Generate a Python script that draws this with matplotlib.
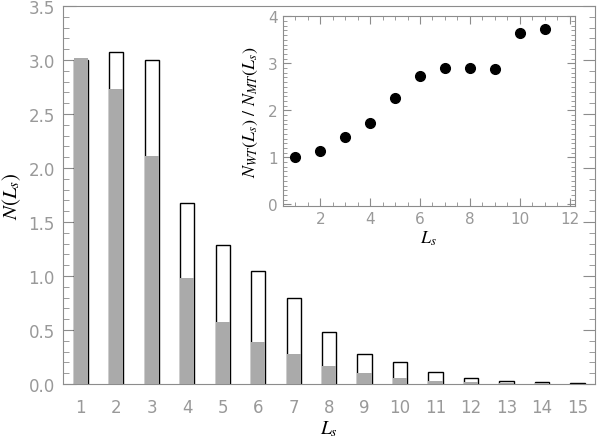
import matplotlib
matplotlib.use("Agg")
import matplotlib.pyplot as plt
from matplotlib.ticker import MultipleLocator

# Data
ls = [1, 2, 3, 4, 5, 6, 7, 8, 9, 10, 11, 12, 13, 14, 15]
n_wt = [3.00, 3.07, 3.00, 1.68, 1.29, 1.05, 0.80, 0.48, 0.28, 0.20, 0.108, 0.056, 0.025, 0.015, 0.007]
n_mt = [3.02, 2.73, 2.11, 0.98, 0.57, 0.39, 0.28, 0.17, 0.10, 0.053, 0.030, 0.022, 0.012, 0.006, 0.003]

ratio_ls = [1, 2, 3, 4, 5, 6, 7, 8, 9, 10, 11]
ratio = [1.00, 1.14, 1.44, 1.72, 2.27, 2.72, 2.90, 2.91, 2.88, 3.65, 3.74]

plt.rcParams['mathtext.fontset'] = 'stix'
gray = '#8c8c8c'
txt = '#999999'

fig = plt.figure(figsize=(6.03, 4.39), dpi=100)
ax = fig.add_axes([0.1045, 0.123, 0.8825, 0.861])

ax.bar(ls, n_wt, width=0.4, facecolor='white', edgecolor='black', linewidth=1.0, zorder=2)
ax.bar(ls, n_mt, width=0.4, facecolor='#aaaaaa', edgecolor='none', zorder=3)

ax.set_xlim(0.5, 15.5)
ax.set_ylim(0, 3.5)
ax.set_xticks(ls)
ax.yaxis.set_major_locator(MultipleLocator(0.5))
ax.yaxis.set_minor_locator(MultipleLocator(0.1))
ax.tick_params(axis='x', length=0, pad=10, labelsize=12, labelcolor=txt)
ax.tick_params(axis='y', which='both', direction='in', left=True, right=True,
               color=gray, labelsize=12, labelcolor=txt, pad=6)
ax.tick_params(axis='y', which='major', length=9)
ax.tick_params(axis='y', which='minor', length=4)
for s in ax.spines.values():
    s.set_color(gray)
ax.set_xlabel('$L_s$', fontsize=14, labelpad=2)
ax.set_ylabel('$N(L_s)$', fontsize=15, labelpad=4)

# inset
axi = fig.add_axes([0.469, 0.528, 0.484, 0.4326])
axi.plot(ratio_ls, ratio, 'o', color='black', markersize=7)
axi.set_xlim(0.5, 12.2)
axi.set_ylim(-0.04, 4.0)
axi.xaxis.set_major_locator(MultipleLocator(2))
axi.xaxis.set_minor_locator(MultipleLocator(0.5))
axi.yaxis.set_major_locator(MultipleLocator(1))
axi.yaxis.set_minor_locator(MultipleLocator(0.1))
axi.tick_params(which='both', direction='in', top=True, right=True,
                color=gray, labelsize=11, labelcolor=txt)
axi.tick_params(which='major', length=6)
axi.tick_params(which='minor', length=3)
for s in axi.spines.values():
    s.set_color(gray)
axi.set_xlabel('$L_s$', fontsize=13, labelpad=2)
axi.set_ylabel('$N_{WT}(L_s)\\ /\\ N_{MT}(L_s)$', fontsize=13, labelpad=6)

fig.savefig('out.png', dpi=100)
